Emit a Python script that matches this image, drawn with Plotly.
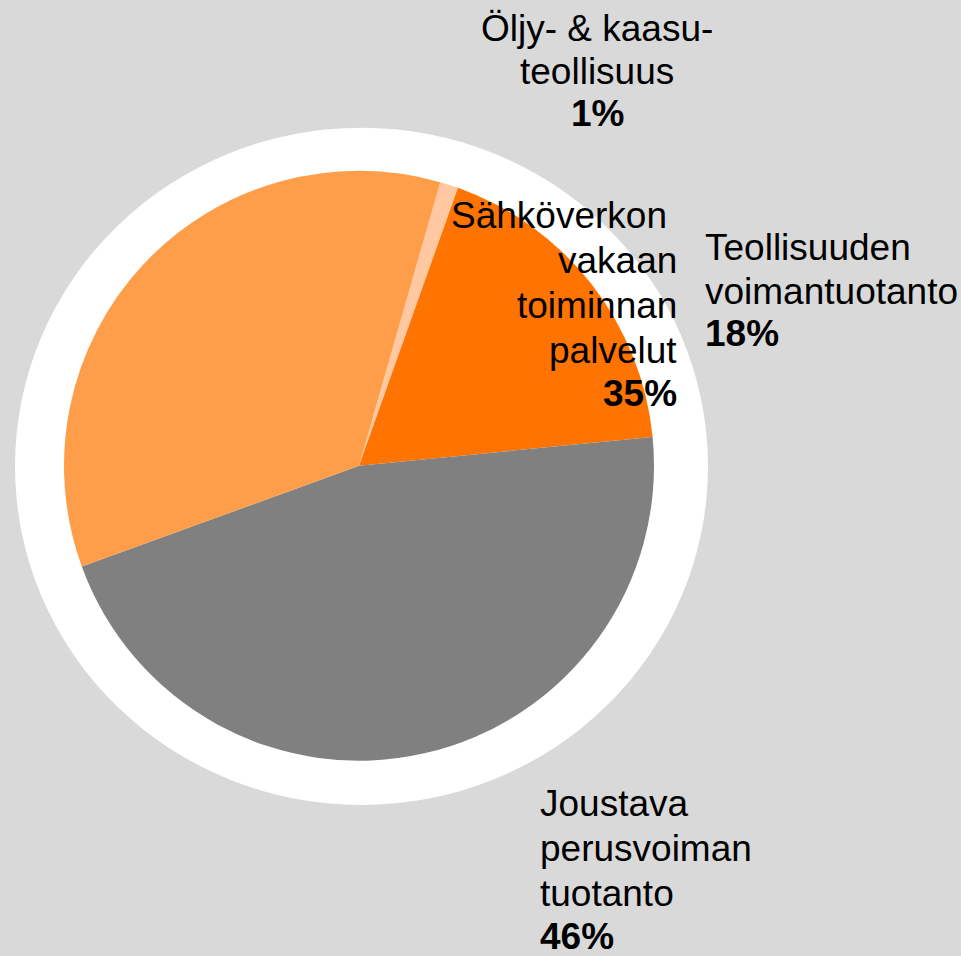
import plotly.graph_objects as go

# ---- data ----
categories = ["Öljy- & kaasu-<br>teollisuus",
              "Teollisuuden<br>voimantuotanto",
              "Joustava<br>perusvoiman<br>tuotanto",
              "Sähköverkon&nbsp;<br>vakaan<br>toiminnan<br>palvelut"]
shares = [1, 18, 46, 35]
colors = ["#FFC8A0", "#FF7300", "#808080", "#FF9E4A"]

W, H = 961, 956
FONT = "Liberation Sans, Arial, sans-serif"
FS = 37

def px(x):
    return x / W

def py(y):
    return 1 - y / H

fig = go.Figure()
fig.add_trace(go.Pie(
    labels=[c.replace("<br>", " ").replace("&nbsp;", "") for c in categories],
    values=shares,
    sort=False,
    direction="clockwise",
    rotation=16,
    marker=dict(colors=colors, line=dict(width=0)),
    textinfo="none",
    hoverinfo="label+percent",
    showlegend=False,
    domain=dict(x=[px(64), px(654)], y=[py(760.7), py(170.7)]),
))

# label layout: (anchor x px, alignment, list of line baselines px)
label_layout = [
    (597, "center", [40, 83, 125]),
    (703, "left", [259, 303, 345]),
    (538, "left", [815, 860, 905, 948]),
    (679, "right", [227, 272, 317, 362, 405]),
]

annotations = []
for cat, val, (ax, al, baselines) in zip(categories, shares, label_layout):
    lines = cat.split("<br>") + [f"<b>{val}%</b>"]
    for line, b in zip(lines, baselines):
        annotations.append(dict(
            text=line, x=px(ax), y=py(b - 0.3 * FS),
            xref="paper", yref="paper",
            xanchor=al, yanchor="middle", align=al,
            showarrow=False,
            font=dict(family=FONT, size=FS, color="#000000"),
        ))

fig.update_layout(
    width=W, height=H,
    margin=dict(l=0, r=0, t=0, b=0),
    paper_bgcolor="#D9D9D9",
    plot_bgcolor="#D9D9D9",
    showlegend=False,
    shapes=[dict(type="circle", xref="paper", yref="paper",
                 x0=px(15), x1=px(708), y0=py(805), y1=py(127.7),
                 fillcolor="#FFFFFF", line=dict(width=0), layer="below")],
    annotations=annotations,
)

fig.write_html("out.html",
               config={"displayModeBar": False},
               post_script="document.body.style.margin='0';document.body.style.padding='0';")
